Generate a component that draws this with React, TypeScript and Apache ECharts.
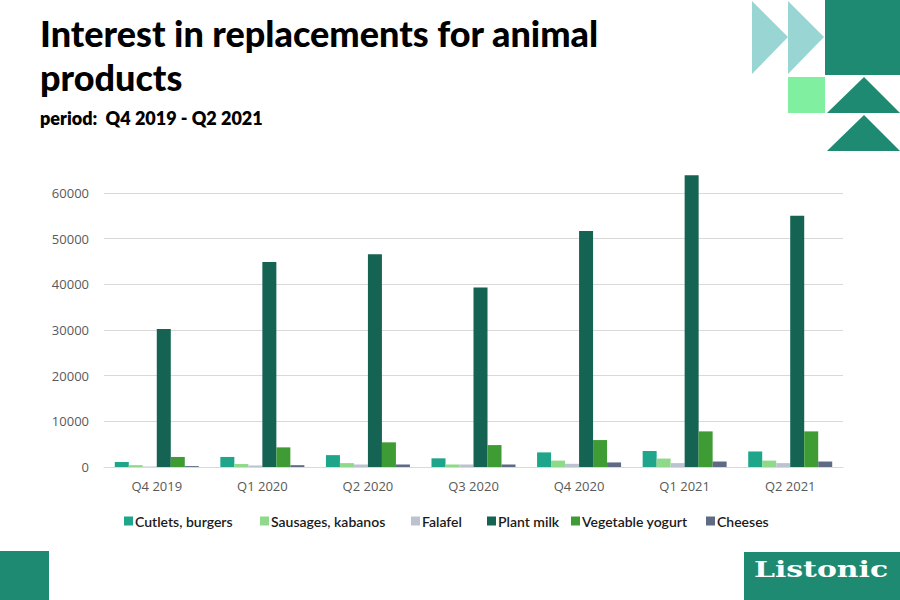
import React, { useEffect, useRef } from "react";
import * as echarts from "echarts";

// Quarters on the category axis
const quarters = ["Q4 2019", "Q1 2020", "Q2 2020", "Q3 2020", "Q4 2020", "Q1 2021", "Q2 2021"];

// Search interest per product group, by quarter
const cutletsBurgers = [1100, 2200, 2600, 1900, 3200, 3500, 3400];
const sausagesKabanos = [400, 650, 850, 550, 1400, 1850, 1400];
const falafel = [100, 350, 550, 550, 700, 850, 850];
const plantMilk = [30200, 44900, 46600, 39300, 51700, 63900, 55000];
const vegetableYogurt = [2200, 4300, 5400, 4800, 5900, 7800, 7800];
const cheeses = [200, 400, 550, 550, 1000, 1200, 1200];

// Value axis ticks
const yMin = 0;
const yMax = 60000;
const yStep = 10000;

const seriesDefs = [
  { name: "Cutlets, burgers", data: cutletsBurgers, color: "#1fa58a" },
  { name: "Sausages, kabanos", data: sausagesKabanos, color: "#8fd98a" },
  { name: "Falafel", data: falafel, color: "#bcc3d0" },
  { name: "Plant milk", data: plantMilk, color: "#156352" },
  { name: "Vegetable yogurt", data: vegetableYogurt, color: "#3f9c35" },
  { name: "Cheeses", data: cheeses, color: "#5f6a85" },
];

// Left edge of each legend entry (entries sit in fixed columns)
const legendLefts = [124, 260, 411, 487, 571, 706];

const brand = "#1e8a72";

export default function App() {
  const ref = useRef<HTMLDivElement>(null);

  useEffect(() => {
    if (!ref.current) return;
    const chart = echarts.init(ref.current, undefined, { renderer: "svg" });

    chart.setOption({
      animation: false,
      backgroundColor: "#ffffff",
      textStyle: { fontFamily: "Lato" },
      grid: { left: 104, right: 57, top: 193, bottom: 133, containLabel: false },
      legend: seriesDefs.map((s, i) => ({
        left: legendLefts[i],
        top: 514,
        padding: 0,
        itemWidth: 9,
        itemHeight: 9,
        icon: "rect",
        textStyle: {
          fontFamily: "Lato",
          fontSize: 14,
          fontWeight: 600,
          color: "#1a1a1a",
          padding: [0, 0, 0, -3],
        },
        data: [s.name],
      })),
      xAxis: {
        type: "category",
        data: quarters,
        axisTick: { show: false },
        axisLine: { lineStyle: { color: "#d9d9d9", width: 1 } },
        axisLabel: { color: "#595959", fontSize: 13, fontFamily: "Open Sans", margin: 12 },
      },
      yAxis: {
        type: "value",
        min: yMin,
        max: yMax,
        interval: yStep,
        axisLine: { show: false },
        axisTick: { show: false },
        axisLabel: {
          color: "#595959",
          fontSize: 13,
          fontFamily: "Open Sans",
          margin: 15,
          formatter: (v: number) => String(v),
        },
        splitLine: { lineStyle: { color: "#d9d9d9", width: 1 } },
      },
      series: seriesDefs.map((s) => ({
        name: s.name,
        type: "bar",
        data: s.data,
        barWidth: 14,
        barGap: "0%",
        clip: false,
        itemStyle: { color: s.color },
      })),
      graphic: [
        // Title block
        {
          type: "text",
          left: 40,
          top: 11,
          style: {
            text: "Interest in replacements for animal\nproducts",
            fontFamily: "Lato",
            fontWeight: 900,
            fontSize: 36,
            lineHeight: 44,
            fill: "#000000",
          },
        },
        {
          type: "text",
          left: 40,
          top: 109,
          style: {
            text: "period:  Q4 2019 - Q2 2021",
            fontFamily: "Lato",
            fontWeight: 800,
            fontSize: 18,
            fill: "#000000",
          },
        },
        // Corner decoration, top right
        { type: "polygon", shape: { points: [[752, 1], [788, 37], [752, 74]] }, style: { fill: "#98d5d3" } },
        { type: "polygon", shape: { points: [[788, 1], [824, 37], [788, 74]] }, style: { fill: "#98d5d3" } },
        { type: "rect", shape: { x: 825, y: 0, width: 75, height: 75 }, style: { fill: brand } },
        { type: "rect", shape: { x: 788, y: 77, width: 37, height: 36 }, style: { fill: "#80f0a0" } },
        { type: "polygon", shape: { points: [[827, 113], [864, 77], [900, 113]] }, style: { fill: brand } },
        { type: "polygon", shape: { points: [[827, 151], [864, 115], [900, 151]] }, style: { fill: brand } },
        // Bottom-left block
        { type: "rect", shape: { x: 0, y: 551, width: 49, height: 49 }, style: { fill: brand } },
        // Logo
        { type: "rect", shape: { x: 744, y: 552, width: 156, height: 48 }, style: { fill: brand } },
        {
          type: "group",
          x: 821,
          y: 569,
          scaleX: 1.3,
          children: [
            {
              type: "text",
              x: 0,
              y: 0,
              style: {
                text: "Listonic",
                fontFamily: "DejaVu Serif",
                fontWeight: "bold",
                fontSize: 23,
                fill: "#ffffff",
                align: "center",
                verticalAlign: "middle",
              },
            },
          ],
        },
      ],
    });

    return () => chart.dispose();
  }, []);

  return <div ref={ref} style={{ width: 900, height: 600, position: "absolute", left: 0, top: 0 }} />;
}
